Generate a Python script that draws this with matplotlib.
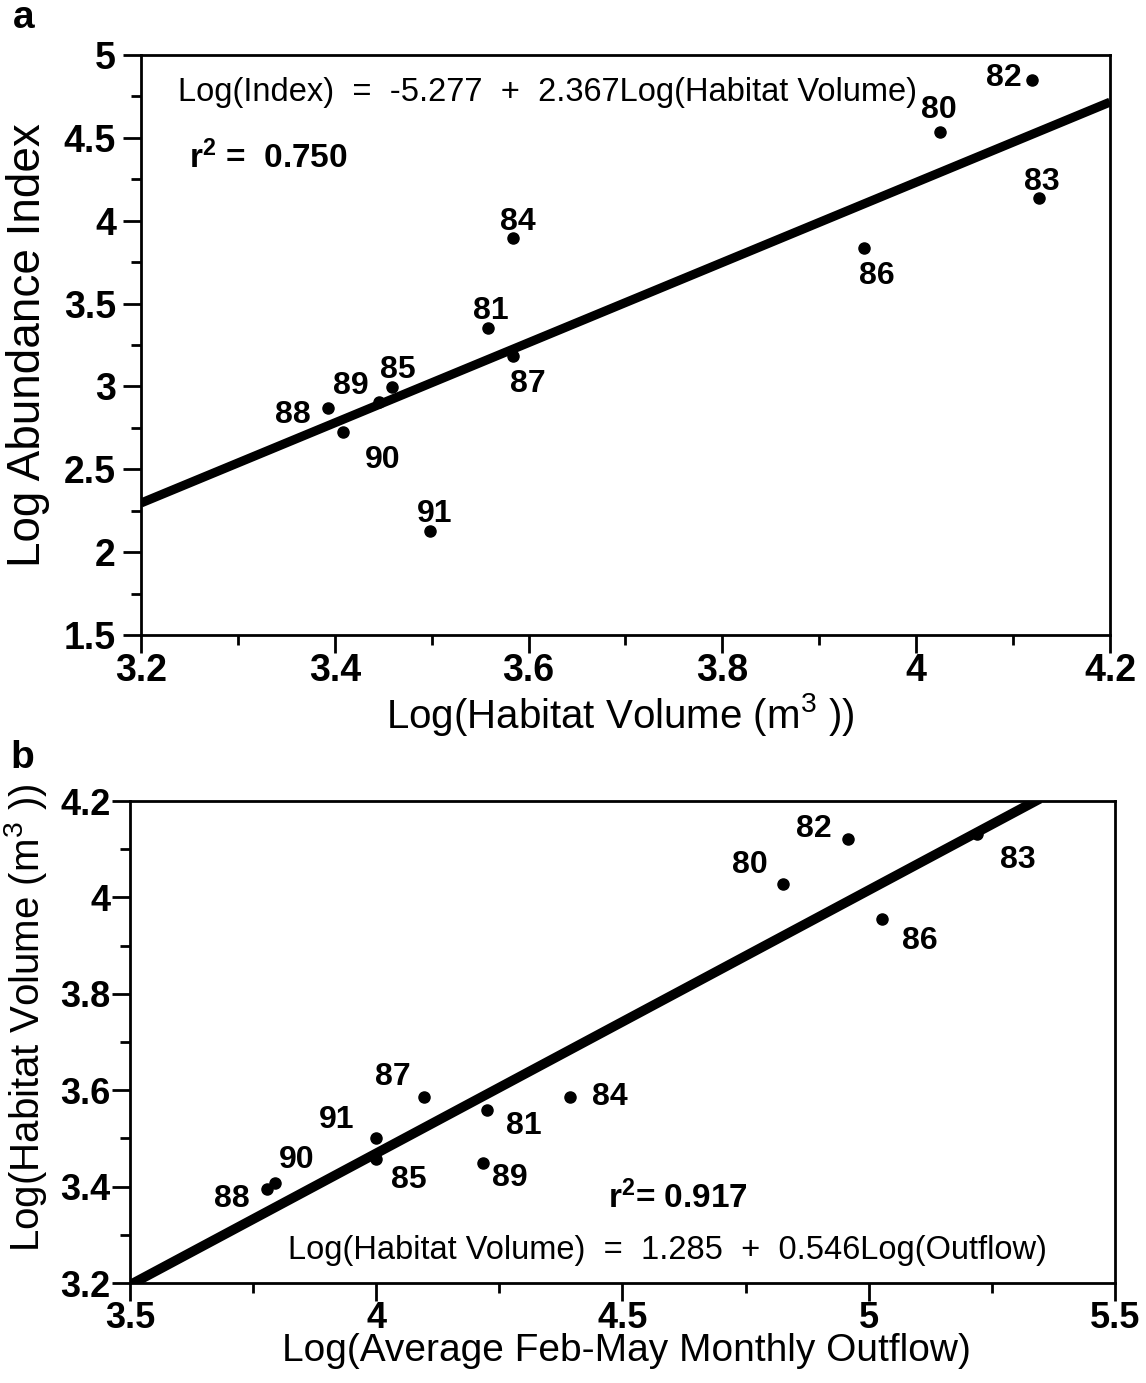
import matplotlib
matplotlib.use("Agg")
import matplotlib.pyplot as plt
from matplotlib.ticker import MultipleLocator

plt.rcParams['font.family'] = ['Liberation Sans', 'DejaVu Sans']
plt.rcParams['mathtext.default'] = 'regular'

# panel a: log habitat volume vs log abundance index
years_a = ['88', '89', '85', '90', '91', '81', '87', '84', '86', '80', '82', '83']
habvol_a = [3.393, 3.446, 3.459, 3.408, 3.498, 3.558, 3.584, 3.584, 3.946, 4.025, 4.120, 4.127]
abund_a = [2.87, 2.906, 2.996, 2.725, 2.127, 3.352, 3.183, 3.896, 3.835, 4.535, 4.849, 4.137]
fit_a_x = [3.2, 4.2]
fit_a_y = [2.296, 4.716]

# panel b: log outflow vs log habitat volume
years_b = ['88', '90', '91', '85', '87', '81', '89', '84', '80', '82', '86', '83']
outflow_b = [3.778, 3.794, 3.999, 3.999, 4.097, 4.225, 4.217, 4.393, 4.826, 4.958, 5.027, 5.220]
habvol_b = [3.395, 3.407, 3.501, 3.457, 3.586, 3.559, 3.449, 3.586, 4.028, 4.121, 3.955, 4.132]
fit_b_intercept = 1.285
fit_b_slope = 0.546

# label offsets in pixels (dx, dy)
off_a = {'88': (-35, -7), '89': (-29, 16), '85': (6, 17), '90': (40, -28), '91': (5, 17),
         '81': (3, 17), '87': (15, -28), '84': (5, 16), '86': (13, -28), '80': (-2, 22),
         '82': (-29, 2), '83': (3, 16)}
off_b = {'88': (-35, -10), '90': (22, 23), '91': (-39, 18), '85': (33, -21), '87': (-31, 20),
         '81': (37, -16), '89': (27, -15), '84': (40, 0), '80': (-33, 19), '82': (-34, 10),
         '86': (38, -22), '83': (41, -26)}

fig = plt.figure(figsize=(11.46, 13.83), dpi=100)
ax1 = fig.add_axes([0.123, 0.5409, 0.8456, 0.4193])
ax2 = fig.add_axes([0.1134, 0.0723, 0.8595, 0.3485])


def style(ax, ypad, size):
    for s in ax.spines.values():
        s.set_linewidth(2)
    ax.tick_params(which='major', direction='out', length=13, width=2,
                   labelsize=size, top=False, right=False)
    ax.tick_params(axis='x', which='major', pad=0)
    ax.tick_params(axis='y', which='major', pad=ypad)
    ax.tick_params(which='minor', direction='out', length=7, width=2, top=False, right=False)
    for lab in ax.get_xticklabels() + ax.get_yticklabels():
        lab.set_fontweight('bold')


# ---- panel a
ax1.plot(fit_a_x, fit_a_y, color='black', lw=6.5, solid_capstyle='butt')
ax1.plot(habvol_a, abund_a, 'o', color='black', ms=8)
for yr, xv, yv in zip(years_a, habvol_a, abund_a):
    ax1.annotate(yr, (xv, yv), xytext=off_a[yr], textcoords='offset pixels',
                 ha='center', va='center', fontsize=23, fontweight='bold')
ax1.set_xlim(3.2, 4.2)
ax1.set_ylim(1.5, 5)
ax1.set_xticks([3.2, 3.4, 3.6, 3.8, 4.0, 4.2])
ax1.set_xticklabels(['3.2', '3.4', '3.6', '3.8', '4', '4.2'])
ax1.set_yticks([1.5, 2, 2.5, 3, 3.5, 4, 4.5, 5])
ax1.set_yticklabels(['1.5', '2', '2.5', '3', '3.5', '4', '4.5', '5'])
ax1.xaxis.set_minor_locator(MultipleLocator(0.1))
ax1.yaxis.set_minor_locator(MultipleLocator(0.25))
style(ax1, 5, 27)
ax1.set_xlabel('Log(Habitat Volume (m$^3$ ))', fontsize=29)
ax1.set_ylabel('Log Abundance Index', fontsize=33)
ax1.xaxis.set_label_coords(0.495, -0.096)
ax1.yaxis.set_label_coords(-0.094, 0.5)
ax1.text(0.038, 0.936, 'Log(Index)  =  -5.277  +  2.367Log(Habitat Volume)',
         transform=ax1.transAxes, fontsize=23.5, va='center', ha='left')
ax1.text(0.05, 0.822, 'r$^2$ =  0.750', transform=ax1.transAxes, fontsize=24,
         fontweight='bold', va='center', ha='left')

# ---- panel b
ax2.axline((0, fit_b_intercept), slope=fit_b_slope, color='black', lw=7)
ax2.plot(outflow_b, habvol_b, 'o', color='black', ms=8)
for yr, xv, yv in zip(years_b, outflow_b, habvol_b):
    ax2.annotate(yr, (xv, yv), xytext=off_b[yr], textcoords='offset pixels',
                 ha='center', va='center', fontsize=23, fontweight='bold')
ax2.set_xlim(3.5, 5.5)
ax2.set_ylim(3.2, 4.2)
ax2.set_xticks([3.5, 4, 4.5, 5, 5.5])
ax2.set_xticklabels(['3.5', '4', '4.5', '5', '5.5'])
ax2.set_yticks([3.2, 3.4, 3.6, 3.8, 4.0, 4.2])
ax2.set_yticklabels(['3.2', '3.4', '3.6', '3.8', '4', '4.2'])
ax2.xaxis.set_minor_locator(MultipleLocator(0.25))
ax2.yaxis.set_minor_locator(MultipleLocator(0.1))
style(ax2, 1, 26)
ax2.set_xlabel('Log(Average Feb-May Monthly Outflow)', fontsize=28)
ax2.set_ylabel('Log(Habitat Volume (m$^3$ ))', fontsize=29)
ax2.xaxis.set_label_coords(0.504, -0.104)
ax2.yaxis.set_label_coords(-0.082, 0.55)
ax2.text(0.485, 0.176, 'r$^2$= 0.917', transform=ax2.transAxes, fontsize=24,
         fontweight='bold', va='center', ha='left')
ax2.text(0.16, 0.068, 'Log(Habitat Volume)  =  1.285  +  0.546Log(Outflow)',
         transform=ax2.transAxes, fontsize=23.5, va='center', ha='left')

fig.text(0.011, 0.987, 'a', fontsize=28, fontweight='bold', va='center')
fig.text(0.009, 0.452, 'b', fontsize=28, fontweight='bold', va='center')

fig.savefig('out.png', dpi=100)
